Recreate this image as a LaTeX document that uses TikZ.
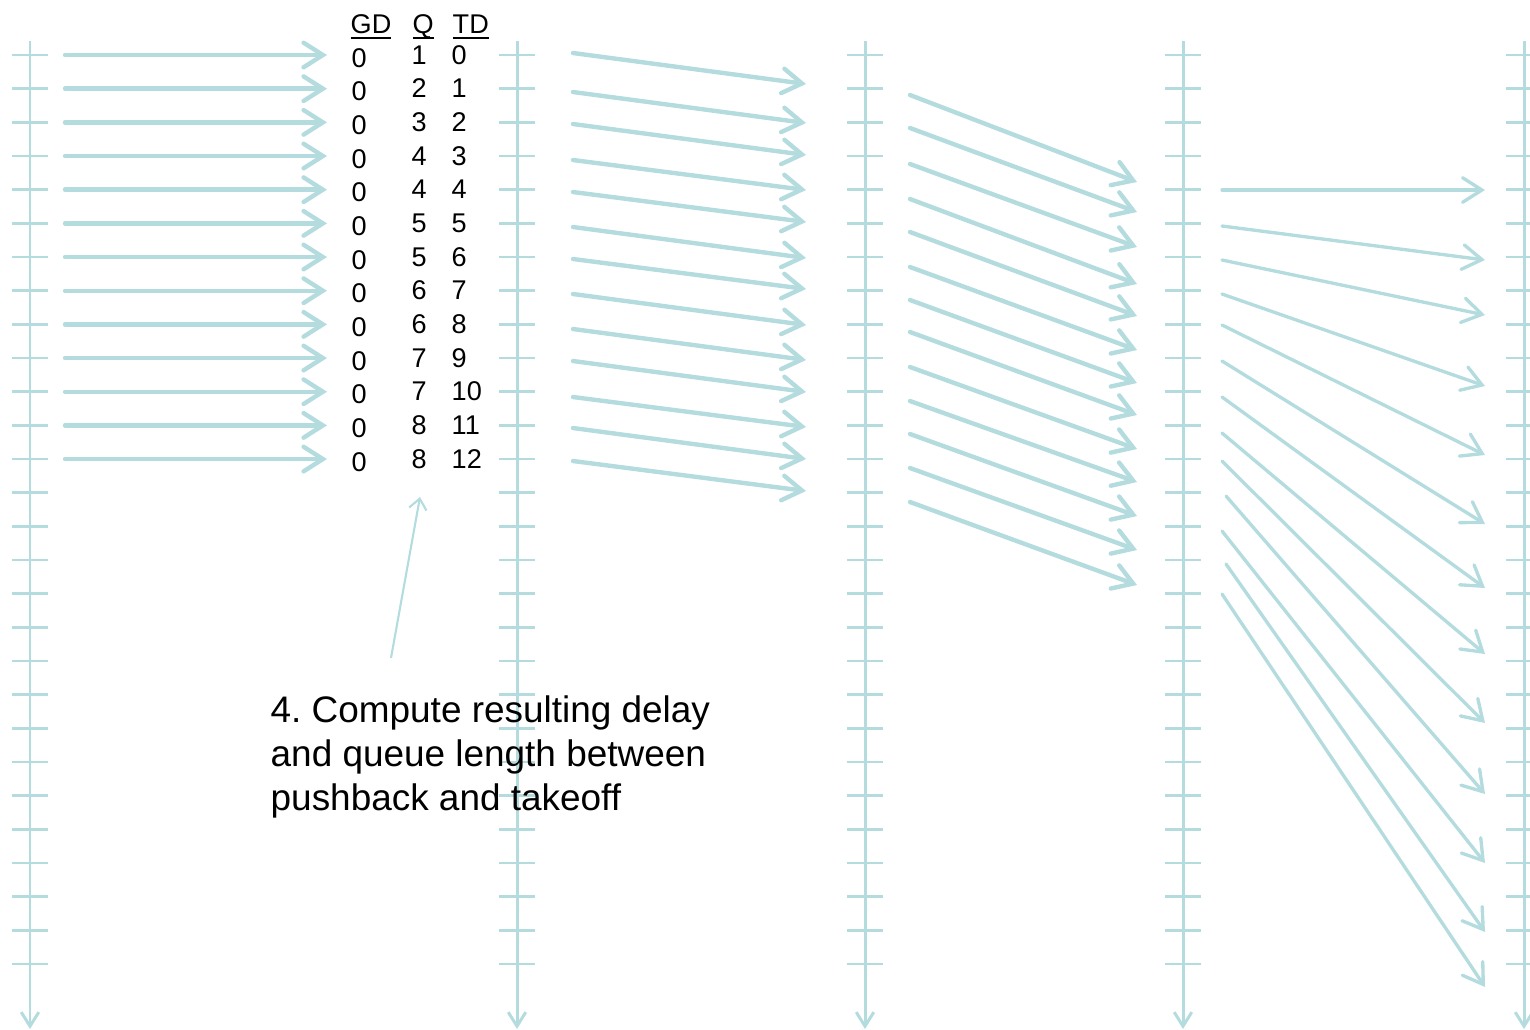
\documentclass[tikz,border=0pt]{standalone}
\usepackage{fontspec}
\setmainfont{Liberation Sans}
\usetikzlibrary{arrows.meta}
\definecolor{timeline}{HTML}{B4DCDF}

\begin{document}
\begin{tikzpicture}[x=0.01cm,y=-0.01cm,
  point/.style={coordinate},
  axis/.style={draw=timeline, line width=0.85pt, -{Straight Barb[length=4pt,width=5pt]}},
  tick/.style={draw=timeline, line width=0.75pt},
  flow/.style={draw=timeline, line width=1.25pt, line cap=round, -{Straight Barb[length=5.5pt,width=7pt,line cap=round]}},
  thinflow/.style={flow, line width=0.95pt},
  callout/.style={draw=timeline, line width=0.6pt, -{Straight Barb[length=3pt,width=5pt]}},
  cell/.style={anchor=base west, inner sep=0pt, font=\fontsize{7.7}{9}\selectfont},
  note/.style={anchor=north west, inner sep=0pt, align=left, font=\fontsize{10.5}{12.5}\selectfont\frenchspacing}]
\useasboundingbox (0,0) rectangle (1530,1029);
\foreach \x [count=\a] in {30,517,865,1183,1524} {
  \node[point] (top\a) at (\x,41) {};
  \node[point] (bot\a) at (\x,1029) {};
  \draw[axis] (top\a) -- (bot\a);
  \foreach \k in {0,...,27} {
    \node[point] (tl\a-\k) at ({\x-18},{55+33.67*\k}) {};
    \node[point] (tr\a-\k) at ({\x+18},{55+33.67*\k}) {};
    \draw[tick] (tl\a-\k) -- (tr\a-\k);
  }
}
\foreach \k in {0,...,12} {
  \node[point] (ga\k) at (65,{55+33.67*\k}) {};
  \node[point] (gb\k) at (327,{55+33.67*\k}) {};
  \draw[flow] (ga\k) -- (gb\k);
}
\foreach \sy/\ey [count=\i] in {53/84,92/123,124/155,160/190,192/222,227/258,259/289,294/325,329/360,361/392,397/427,428/459,461/491} {
  \node[point] (pa\i) at (573,\sy) {};
  \node[point] (pb\i) at (806,\ey) {};
  \draw[flow] (pa\i) -- (pb\i);
}
\foreach \sy/\ey [count=\i] in {95/182,128/212,164/247,199/284,232/316,267/350,300/383,332/415,367/449,401/482,434/516,468/550,502/585} {
  \node[point] (ra\i) at (910,\sy) {};
  \node[point] (rb\i) at (1137,\ey) {};
  \draw[flow] (ra\i) -- (rb\i);
}
\foreach \sx/\sy/\ey [count=\i] in {1222/190/190,1222/226/260,1222/260/315,1222/294/386,1222/325/455,1222/361/524,1222/397/588,1222/433/654,1222/461/723,1226/496/794,1222/531/863,1226/564/932,1222/594/987} {
  \node[point] (ta\i) at (\sx,\sy) {};
  \node[point] (tb\i) at (1485,\ey) {};
  \draw[thinflow] (ta\i) -- (tb\i);
}
\node[cell] (hgd) at (350,33) {\underline{GD}};
\node[cell] (hq) at (412,33) {\underline{\smash{Q}}};
\node[cell] (htd) at (452,33) {\underline{TD}};
\foreach \q [count=\i from 0] in {1,2,3,4,4,5,5,6,6,7,7,8,8} {
  \node[cell] (gd\i) at (351,{67+33.67*\i}) {0};
  \node[cell] (q\i) at (411,{64+33.67*\i}) {\q};
  \node[cell] (td\i) at (451,{64+33.67*\i}) {\i};
}
\node[note] (step4) at (270,695) {4. Compute resulting delay\\and queue length between\\pushback and takeoff};
\node[point] (callfoot) at (391,658) {};
\node[point] (calltip) at (420,497) {};
\draw[callout] (callfoot) -- (calltip);
\end{tikzpicture}
\end{document}
